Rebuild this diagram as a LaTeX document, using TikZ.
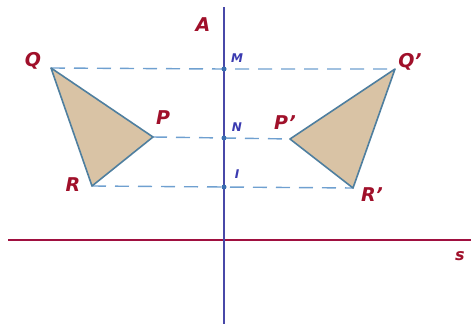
\documentclass[tikz,border=0pt]{standalone}
\usepackage{fontspec}
\setmainfont{DejaVu Sans}
\begin{document}
\begin{tikzpicture}[x=1pt,y=-1pt,
  lab/.style={text=labred,font=\fontsize{19}{19}\selectfont\bfseries\itshape,inner sep=0},
  blab/.style={text=lblue,font=\fontsize{12}{12}\selectfont\bfseries\itshape,inner sep=0},
  dline/.style={draw=dblue,dash pattern=on 14pt off 9pt,line width=1.4pt},
  tri/.style={draw=tblue,fill=tan,line width=1.6pt,line join=round},
  pt/.style={circle,fill=pblue,inner sep=0,minimum size=5pt}]
\definecolor{labred}{HTML}{A0102A}
\definecolor{lblue}{HTML}{3A3AB0}
\definecolor{dblue}{HTML}{6FA0D0}
\definecolor{tblue}{HTML}{4F7F9F}
\definecolor{tan}{HTML}{D9C3A5}
\definecolor{pblue}{HTML}{3A6FB0}
\definecolor{vaxis}{HTML}{4848A8}
\definecolor{haxis}{HTML}{A01040}
\useasboundingbox (0,0) rectangle (471,324);
\coordinate (Q) at (51,68);
\coordinate (P) at (153,137);
\coordinate (R) at (92,186);
\coordinate (Q') at (395,69);
\coordinate (P') at (290,139);
\coordinate (R') at (353,188);
\coordinate (M) at (224,69);
\coordinate (N) at (224,138);
\coordinate (I) at (224,187);
\coordinate (At) at (224,7);
\coordinate (Ab) at (224,324);
\coordinate (Sl) at (8,240);
\coordinate (Sr) at (471,240);
\draw[haxis,line width=1.6pt] (Sl) -- (Sr);
\draw[vaxis,line width=1.6pt] (At) -- (Ab);
\draw[dline] (Q) -- (M) -- (Q');
\draw[dline] (P) -- (N) -- (P');
\draw[dline] (R) -- (I) -- (R');
\draw[tri] (Q) -- (P) -- (R) -- cycle;
\draw[tri] (Q') -- (P') -- (R') -- cycle;
\node[pt] (m) at (M) {};
\node[pt] (n) at (N) {};
\node[pt] (i) at (I) {};
\node[lab] (la) at (203,25) {A};
\node[lab] (lq) at (33,61) {Q};
\node[lab] (lp) at (163,118) {P};
\node[lab] (lr) at (73,185) {R};
\node[lab] (lq2) at (410,62) {Q'};
\node[lab] (lp2) at (285,123) {P'};
\node[lab] (lr2) at (372,195) {R'};
\node[lab,font=\fontsize{16}{16}\selectfont\bfseries\itshape] (ls) at (460,256) {s};
\node[blab] (lm) at (237,58) {M};
\node[blab] (ln) at (237,127) {N};
\node[blab] (li) at (237,174) {I};
\end{tikzpicture}
\end{document}
